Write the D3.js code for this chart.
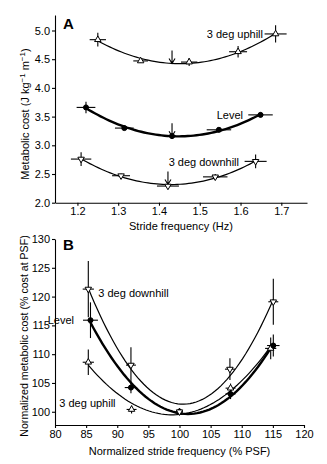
<!DOCTYPE html>
<html>
<head>
<meta charset="utf-8">
<script src="https://cdn.jsdelivr.net/npm/d3@7"></script>
<style>
  body { margin: 0; background: #fff; }
  svg { font-family: "Liberation Sans", Arial, Helvetica, sans-serif; }
  .axis path, .axis line { stroke: #000; stroke-width: 1.1; }
  .axis text { font-size: 11px; fill: #000; }
</style>
</head>
<body>
<div id="chart"></div>
<script>
// ---- panel A: stride frequency (Hz) vs metabolic cost (J kg-1 m-1)
let seriesNames = ["3 deg uphill", "Level", "3 deg downhill"];
let seriesShape = ["up", "circle", "down"];

let upA_x = [1.25, 1.355, 1.474, 1.594, 1.686];
let upA_y = [4.84, 4.47, 4.45, 4.63, 4.94];
let upA_xe = [0.02, 0.018, 0.02, 0.022, 0.027];
let upA_ye = [0.12, 0.03, 0.07, 0.1, 0.15];

let lvA_x = [1.221, 1.315, 1.432, 1.547, 1.649];
let lvA_y = [3.66, 3.30, 3.16, 3.27, 3.53];
let lvA_xe = [0.023, 0.023, 0.01, 0.03, 0.03];
let lvA_ye = [0.1, 0.03, 0.05, 0.03, 0.04];

let dnA_x = [1.209, 1.307, 1.422, 1.538, 1.637];
let dnA_y = [2.76, 2.47, 2.29, 2.45, 2.72];
let dnA_xe = [0.025, 0.022, 0.027, 0.03, 0.027];
let dnA_ye = [0.12, 0.04, 0.05, 0.05, 0.12];

let psfA = [1.432, 1.432, 1.422];

// ---- panel B: normalized stride frequency (% PSF) vs normalized cost (%)
let upB_x = [85.35, 92.3, 100, 108.2, 114.65];
let upB_y = [108.6, 100.4, 100, 104.1, 111.0];
let upB_xe = [0.9, 0.8, 0.5, 0.8, 0.9];
let upB_ye = [2.2, 0.7, 0.2, 0.8, 1.9];

let lvB_x = [85.7, 92.2, 100, 108.2, 115.07];
let lvB_y = [115.9, 104.2, 100, 103.1, 111.5];
let lvB_xe = [1.2, 1.0, 0.5, 0.8, 1.0];
let lvB_ye = [3.1, 1.0, 0.2, 0.9, 1.9];

let dnB_x = [85.35, 92.2, 100, 108.1, 115.07];
let dnB_y = [121.3, 108.1, 100, 107.4, 119.1];
let dnB_xe = [0.9, 0.8, 0.5, 0.8, 0.8];
let dnB_ye = [4.9, 3.1, 0.2, 1.9, 4.0];

let ticksAx = [1.2, 1.3, 1.4, 1.5, 1.6, 1.7];
let ticksAy = [2.0, 2.5, 3.0, 3.5, 4.0, 4.5, 5.0];
let ticksBx = [80, 85, 90, 95, 100, 105, 110, 115, 120];
let ticksBy = [100, 105, 110, 115, 120, 125, 130];

let width = 327, height = 464;
let svg = d3.select('#chart').append('svg')
  .attr('width', width)
  .attr('height', height);

function pack(xs, ys, xe, ye) {
  return xs.map((x, i) => ({ x: x, y: ys[i], xe: xe[i], ye: ye[i] }));
}

// least squares quadratic through the points (the fitted curves)
function fit2(pts) {
  let s = [0, 0, 0, 0, 0], t = [0, 0, 0];
  pts.forEach(p => {
    let xp = 1;
    for (let k = 0; k < 5; k++) { s[k] += xp; if (k < 3) t[k] += xp * p.y; xp *= p.x; }
  });
  let m = [[s[0], s[1], s[2], t[0]], [s[1], s[2], s[3], t[1]], [s[2], s[3], s[4], t[2]]];
  for (let i = 0; i < 3; i++) {
    for (let j = i + 1; j < 3; j++) {
      let f = m[j][i] / m[i][i];
      for (let k = i; k < 4; k++) m[j][k] -= f * m[i][k];
    }
  }
  let c = [0, 0, 0];
  for (let i = 2; i >= 0; i--) {
    let v = m[i][3];
    for (let k = i + 1; k < 3; k++) v -= m[i][k] * c[k];
    c[i] = v / m[i][i];
  }
  return x => c[0] + c[1] * x + c[2] * x * x;
}

function drawPanel(cfg) {
  let g = svg.append('g');
  let x = cfg.x, y = cfg.y;

  g.append('g').attr('class', 'axis')
    .attr('transform', 'translate(0,' + y.range()[0] + ')')
    .call(d3.axisBottom(x).tickValues(cfg.tx).tickFormat(cfg.fx)
      .tickSize(3).tickSizeOuter(0).tickPadding(2));
  g.append('g').attr('class', 'axis')
    .attr('transform', 'translate(' + x.range()[0] + ',0)')
    .call(d3.axisLeft(y).tickValues(cfg.ty).tickFormat(cfg.fy)
      .tickSize(3).tickSizeOuter(0).tickPadding(2));
  g.selectAll('.axis .domain').attr('stroke-width', 1.2);

  cfg.series.forEach((pts, si) => {
    let f = fit2(pts);
    let x0 = d3.min(pts, d => d.x), x1 = d3.max(pts, d => d.x);
    let xs = d3.range(0, 61).map(i => x0 + (x1 - x0) * i / 60);
    g.append('path')
      .attr('d', d3.line().x(d => x(d)).y(d => y(f(d)))(xs))
      .attr('fill', 'none')
      .attr('stroke', '#000')
      .attr('stroke-width', si === 1 ? 2.4 : 1.2);

    // error bars
    let eb = g.append('g').attr('stroke', '#000').attr('stroke-width', 1.1);
    eb.selectAll('.v').data(pts).enter().append('line')
      .attr('x1', d => x(d.x)).attr('x2', d => x(d.x))
      .attr('y1', d => y(d.y - d.ye)).attr('y2', d => y(d.y + d.ye));
    eb.selectAll('.h').data(pts).enter().append('line')
      .attr('x1', d => x(d.x - d.xe)).attr('x2', d => x(d.x + d.xe))
      .attr('y1', d => y(d.y)).attr('y2', d => y(d.y));

    if (cfg.psf) {
      let px = x(cfg.psf[si]), py = y(f(cfg.psf[si]));
      g.append('path')
        .attr('d', 'M' + px + ',' + (py - 13) + 'V' + py +
          'M' + (px - 3) + ',' + (py - 5) + 'L' + px + ',' + py + 'L' + (px + 3) + ',' + (py - 5))
        .attr('fill', 'none').attr('stroke', '#000').attr('stroke-width', 1.1);
    }
  });

  // markers on top
  cfg.series.forEach((pts, si) => {
    let shape = seriesShape[si];
    let sym = shape === 'circle' ? d3.symbol(d3.symbolCircle, 20) : d3.symbol(d3.symbolTriangle, 18);
    g.selectAll(null).data(pts).enter().append('path')
      .attr('d', sym)
      .attr('transform', d => 'translate(' + x(d.x) + ',' + y(d.y) + ')' + (shape === 'down' ? ' rotate(180)' : ''))
      .attr('fill', shape === 'circle' ? '#000' : '#fff')
      .attr('stroke', '#000')
      .attr('stroke-width', 1);
  });

  cfg.labels.forEach((l, i) => {
    g.append('text')
      .attr('x', l[0]).attr('y', l[1])
      .attr('text-anchor', l[2])
      .attr('font-size', 11)
      .text(seriesNames[i]);
  });

  g.append('text')
    .attr('x', 63).attr('y', cfg.letterY)
    .attr('font-size', 15).attr('font-weight', 'bold')
    .text(cfg.letter);

  g.append('text')
    .attr('x', (x.range()[0] + x.range()[1]) / 2).attr('y', cfg.xtY)
    .attr('text-anchor', 'middle').attr('font-size', 11)
    .text(cfg.xtitle);

  return g;
}

let gA = drawPanel({
  x: d3.scaleLinear().domain([1.145, 1.763]).range([55, 307]),
  y: d3.scaleLinear().domain([2.0, 5.27]).range([202.7, 15]),
  tx: ticksAx, ty: ticksAy, fx: d3.format('.1f'), fy: d3.format('.1f'),
  series: [pack(upA_x, upA_y, upA_xe, upA_ye), pack(lvA_x, lvA_y, lvA_xe, lvA_ye), pack(dnA_x, dnA_y, dnA_xe, dnA_ye)],
  psf: psfA,
  labels: [[263, 37.5, 'end'], [243, 118.5, 'end'], [239, 166, 'end']],
  letter: 'A', letterY: 28.5,
  xtitle: 'Stride frequency (Hz)', xtY: 230
});

// y title A with superscripts
let ytA = gA.append('text')
  .attr('transform', 'translate(28.5,114) rotate(-90)')
  .attr('text-anchor', 'middle').attr('font-size', 11);
ytA.append('tspan').text('Metabolic cost (J kg');
ytA.append('tspan').attr('dy', -4).attr('font-size', 8).text('\u22121');
ytA.append('tspan').attr('dy', 4).text(' m');
ytA.append('tspan').attr('dy', -4).attr('font-size', 8).text('\u22121');
ytA.append('tspan').attr('dy', 4).text(')');

let gB = drawPanel({
  x: d3.scaleLinear().domain([80, 120]).range([55, 304]),
  y: d3.scaleLinear().domain([97.7, 130]).range([425, 239]),
  tx: ticksBx, ty: ticksBy, fx: d3.format('d'), fy: d3.format('d'),
  series: [pack(upB_x, upB_y, upB_xe, upB_ye), pack(lvB_x, lvB_y, lvB_xe, lvB_ye), pack(dnB_x, dnB_y, dnB_xe, dnB_ye)],
  psf: null,
  labels: [[59.3, 406.5, 'start'], [74, 324, 'end'], [98.3, 296.5, 'start']],
  letter: 'B', letterY: 249.5,
  xtitle: 'Normalized stride frequency (% PSF)', xtY: 455
});

gB.append('text')
  .attr('transform', 'translate(27.5,336) rotate(-90)')
  .attr('text-anchor', 'middle').attr('font-size', 10.6)
  .text('Normalized metabolic cost (% cost at PSF)');
</script>
</body>
</html>
